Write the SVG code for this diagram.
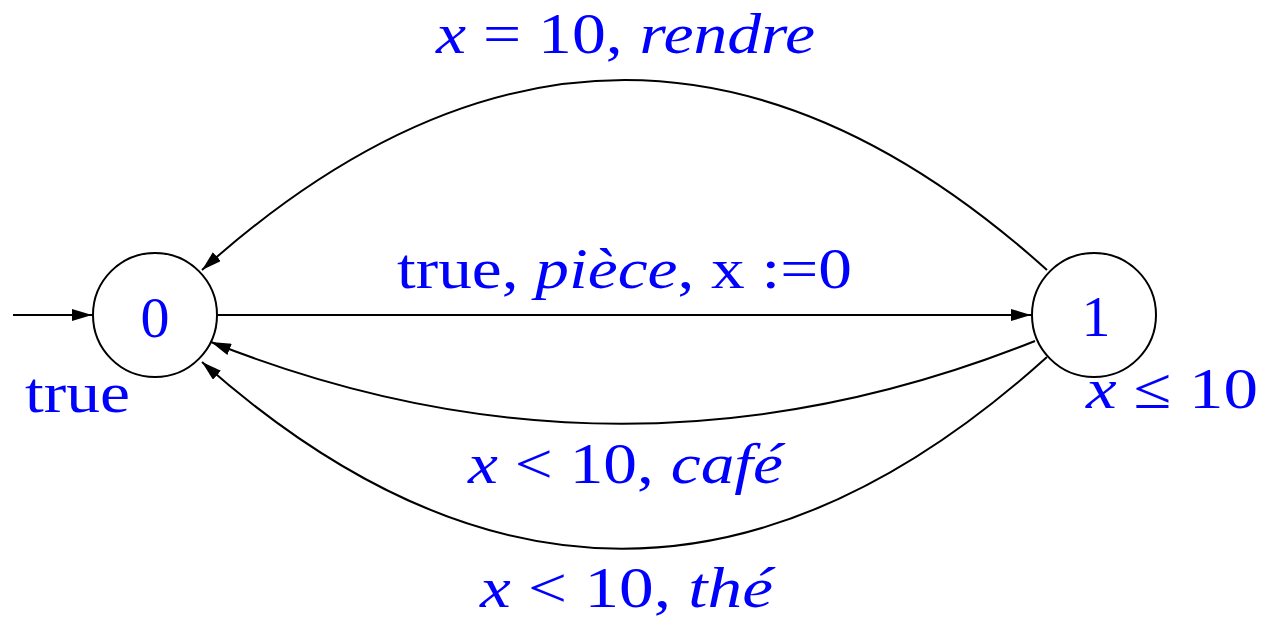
<svg xmlns="http://www.w3.org/2000/svg" width="1265" height="619" viewBox="0 0 1265 619">
<style>
.st{fill:#fff;stroke:#000;stroke-width:2}
.e{fill:none;stroke:#000;stroke-width:2}
.t{font-family:"Liberation Serif","DejaVu Serif",serif;fill:#0000ff;font-size:58px}
.i{font-style:italic}
</style>
<defs>
<marker id="ah" viewBox="0 0 20 12" refX="20" refY="6" markerWidth="20" markerHeight="12" markerUnits="userSpaceOnUse" orient="auto">
<path d="M0,0 L20,6 L0,12 Z" fill="#000"/>
</marker>
</defs>
<g id="connectors">
<path class="e" d="M13,315 L92,315" marker-end="url(#ah)"/>
<path class="e" d="M218,315 L1031,315" marker-end="url(#ah)"/>
<path class="e" d="M1047,270 Q625,-110 202,270" marker-end="url(#ah)"/>
<path class="e" d="M1035,341 Q623,506 211,342" marker-end="url(#ah)"/>
<path class="e" d="M1047,357 Q625,738 202,362" marker-end="url(#ah)"/>
</g>
<g id="node0">
<circle class="st" cx="155" cy="315" r="62"/>
<text class="t" x="155" y="337" text-anchor="middle" font-size="63">0</text>
<text class="t" x="25" y="412" textLength="105" lengthAdjust="spacingAndGlyphs">true</text>
</g>
<g id="node1">
<circle class="st" cx="1094" cy="315" r="62"/>
<text class="t" x="1096" y="336" text-anchor="middle" font-size="63">1</text>
<text class="t" x="1086" y="408" textLength="172" lengthAdjust="spacingAndGlyphs"><tspan class="i">x</tspan> ≤ 10</text>
</g>
<g id="labels">
<text class="t" x="436" y="53" textLength="379" lengthAdjust="spacingAndGlyphs"><tspan class="i">x</tspan> = 10, <tspan class="i">rendre</tspan></text>
<text class="t" x="397" y="288" textLength="455" lengthAdjust="spacingAndGlyphs">true, <tspan class="i">pièce</tspan>, x :=0</text>
<text class="t" x="468" y="483" textLength="315" lengthAdjust="spacingAndGlyphs"><tspan class="i">x</tspan> &lt; 10, <tspan class="i">café</tspan></text>
<text class="t" x="480" y="607" textLength="293" lengthAdjust="spacingAndGlyphs"><tspan class="i">x</tspan> &lt; 10, <tspan class="i">thé</tspan></text>
</g>
</svg>
